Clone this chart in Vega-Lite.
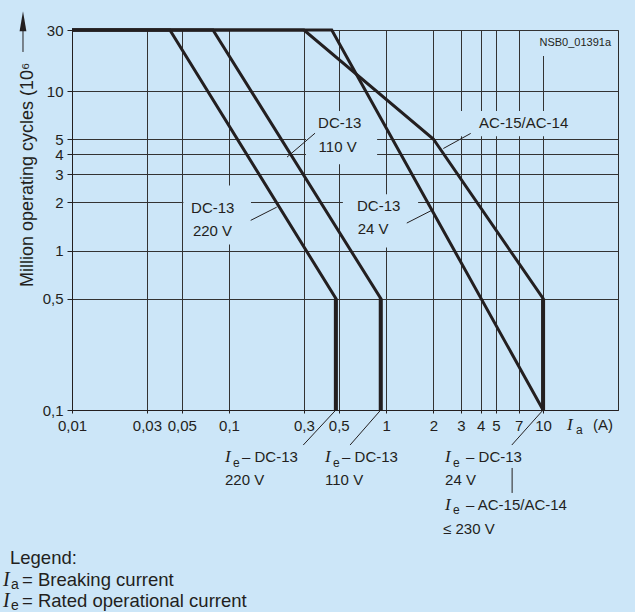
{
  "$schema": "https://vega.github.io/schema/vega-lite/v6.json",
  "width": 546,
  "height": 380,
  "autosize": {"type": "none"},
  "padding": {"left": 72, "top": 30, "right": 17, "bottom": 202},
  "background": "#cce6f8",
  "config": {
    "view": {"stroke": "#2b2b2b", "strokeWidth": 1},
    "text": {"font": "Liberation Sans", "color": "#231f20"}
  },
  "datasets": {
    "curves": [
      {"s": "220", "o": 1, "x": 0.01, "y": 30},
      {"s": "220", "o": 2, "x": 0.042, "y": 30},
      {"s": "220", "o": 3, "x": 0.479, "y": 0.5},
      {"s": "220", "o": 4, "x": 0.479, "y": 0.1},
      {"s": "110", "o": 1, "x": 0.01, "y": 30},
      {"s": "110", "o": 2, "x": 0.079, "y": 30},
      {"s": "110", "o": 3, "x": 0.925, "y": 0.5},
      {"s": "110", "o": 4, "x": 0.925, "y": 0.1},
      {"s": "24", "o": 1, "x": 0.01, "y": 30},
      {"s": "24", "o": 2, "x": 0.451, "y": 30},
      {"s": "24", "o": 3, "x": 10, "y": 0.1},
      {"s": "AC", "o": 1, "x": 0.01, "y": 30},
      {"s": "AC", "o": 2, "x": 0.3, "y": 30},
      {"s": "AC", "o": 3, "x": 2, "y": 5},
      {"s": "AC", "o": 4, "x": 10, "y": 0.5},
      {"s": "AC", "o": 5, "x": 10, "y": 0.1}
    ],
    "verticals": [
      {"x": 0.479, "y": 0.5, "y2": 0.1},
      {"x": 0.925, "y": 0.5, "y2": 0.1},
      {"x": 10, "y": 0.5, "y2": 0.1}
    ],
    "masks": [
      {"x": 0.0512, "x2": 0.138, "y": 2.56, "y2": 1.09},
      {"x": 0.309, "x2": 0.877, "y": 7.48, "y2": 3.47},
      {"x": 0.531, "x2": 1.6, "y": 2.25, "y2": 1.044},
      {"x": 2.38, "x2": 16.0, "y": 7.48, "y2": 5.21},
      {"x": 8.26, "x2": 28.7, "y": 29.4, "y2": 18.8}
    ],
    "leaders": [
      {"x": 0.353, "y": 5.44, "x2": 0.234, "y2": 3.85},
      {"x": 0.1374, "y": 1.545, "x2": 0.2013, "y2": 1.87},
      {"x": 1.355, "y": 1.486, "x2": 1.955, "y2": 1.786},
      {"x": 3.46, "y": 5.42, "x2": 2.317, "y2": 4.36},
      {"x": 0.479, "y": 0.1, "x2": 0.297, "y2": 0.0603},
      {"x": 0.925, "y": 0.1, "x2": 0.59, "y2": 0.0603},
      {"x": 10, "y": 0.1, "x2": 6.32, "y2": 0.0603},
      {"x": 6.35, "y": 0.0433, "x2": 6.35, "y2": 0.0302},
      {"x": 0.004874, "y": 20.2, "x2": 0.004874, "y2": 31}
    ],
    "arrow": [
      {"x": 0.004874, "y": 35.1}
    ],
    "labels": [
      {"x": 0.0573, "y": 1.837, "t": "DC-13", "k": "label"},
      {"x": 0.0589, "y": 1.316, "t": "220 V", "k": "label"},
      {"x": 0.369, "y": 6.34, "t": "DC-13", "k": "label"},
      {"x": 0.372, "y": 4.48, "t": "110 V", "k": "label"},
      {"x": 0.653, "y": 1.89, "t": "DC-13", "k": "label"},
      {"x": 0.66, "y": 1.356, "t": "24 V", "k": "label"},
      {"x": 3.91, "y": 6.34, "t": "AC-15/AC-14", "k": "label"},
      {"x": 27.1, "y": 23.9, "t": "NSB0_01391a", "k": "note"},
      {"x": 14.22, "y": 0.0805, "t": "I", "k": "ital"},
      {"x": 16.2, "y": 0.0745, "t": "a", "k": "sub"},
      {"x": 20.8, "y": 0.0805, "t": "(A)", "k": "label"},
      {"x": 0.0943, "y": 0.0504, "t": "I", "k": "ital"},
      {"x": 0.1061, "y": 0.0468, "t": "e", "k": "sub"},
      {"x": 0.121, "y": 0.0504, "t": "– DC-13", "k": "label"},
      {"x": 0.0943, "y": 0.0364, "t": "220 V", "k": "label"},
      {"x": 0.4088, "y": 0.0504, "t": "I", "k": "ital"},
      {"x": 0.4597, "y": 0.0468, "t": "e", "k": "sub"},
      {"x": 0.5245, "y": 0.0504, "t": "– DC-13", "k": "label"},
      {"x": 0.4088, "y": 0.0364, "t": "110 V", "k": "label"},
      {"x": 2.376, "y": 0.0504, "t": "I", "k": "ital"},
      {"x": 2.673, "y": 0.0468, "t": "e", "k": "sub"},
      {"x": 3.233, "y": 0.0504, "t": "– DC-13", "k": "label"},
      {"x": 2.376, "y": 0.0364, "t": "24 V", "k": "label"},
      {"x": 2.376, "y": 0.02537, "t": "I", "k": "ital"},
      {"x": 2.673, "y": 0.02355, "t": "e", "k": "sub"},
      {"x": 3.233, "y": 0.02537, "t": "– AC-15/AC-14", "k": "label"},
      {"x": 2.307, "y": 0.01795, "t": "≤ 230 V", "k": "label"},
      {"x": 0.004029, "y": 0.01181, "t": "Legend:", "k": "legend"},
      {"x": 0.003634, "y": 0.008594, "t": "I", "k": "legital"},
      {"x": 0.004088, "y": 0.007993, "t": "a", "k": "legsub"},
      {"x": 0.004803, "y": 0.008594, "t": "= Breaking current", "k": "legend"},
      {"x": 0.003634, "y": 0.006346, "t": "I", "k": "legital"},
      {"x": 0.004088, "y": 0.005905, "t": "e", "k": "legsub"},
      {"x": 0.004803, "y": 0.006346, "t": "= Rated operational current", "k": "legend"}
    ]
  },
  "encoding": {
    "x": {
      "field": "x",
      "type": "quantitative",
      "scale": {"type": "log", "domain": [0.01, 30], "nice": false},
      "axis": {
        "values": [0.01, 0.03, 0.05, 0.1, 0.3, 0.5, 1, 2, 3, 4, 5, 7, 10],
        "labelExpr": "replace(toString(datum.value), '.', ',')",
        "title": null,
        "grid": true,
        "gridColor": "#333333",
        "gridWidth": 1,
        "tickSize": 3,
        "tickColor": "#231f20",
        "domainColor": "#231f20",
        "labelPadding": 5,
        "labelFontSize": 15,
        "labelFont": "Liberation Sans",
        "labelColor": "#231f20",
        "labelOverlap": false,
        "labelFlush": false
      }
    },
    "y": {
      "field": "y",
      "type": "quantitative",
      "scale": {"type": "log", "domain": [0.1, 10, 30], "range": [380, 61, 0], "nice": false},
      "axis": {
        "values": [0.1, 0.5, 1, 2, 3, 4, 5, 10, 30],
        "labelExpr": "replace(toString(datum.value), '.', ',')",
        "title": "Million operating cycles (10⁶",
        "titleFont": "Liberation Sans",
        "titleFontSize": 18,
        "titleFontWeight": "normal",
        "titleColor": "#231f20",
        "titleAngle": 270,
        "titleAlign": "right",
        "titleBaseline": "middle",
        "titleX": -45,
        "titleY": 32,
        "grid": true,
        "gridColor": "#333333",
        "gridWidth": 1,
        "tickSize": 5,
        "tickColor": "#231f20",
        "domainColor": "#231f20",
        "labelPadding": 4,
        "labelFontSize": 15,
        "labelFont": "Liberation Sans",
        "labelColor": "#231f20",
        "labelOverlap": false,
        "labelFlush": false
      }
    }
  },
  "layer": [
    {
      "data": {"name": "masks"},
      "mark": {"type": "rect", "fill": "#cce6f8", "strokeWidth": 0},
      "encoding": {"x2": {"field": "x2"}, "y2": {"field": "y2"}}
    },
    {
      "data": {"name": "leaders"},
      "mark": {"type": "rule", "color": "#231f20", "strokeWidth": 1},
      "encoding": {"x2": {"field": "x2"}, "y2": {"field": "y2"}}
    },
    {
      "data": {"name": "curves"},
      "mark": {"type": "line", "color": "#231f20", "strokeWidth": 3, "strokeJoin": "miter", "strokeCap": "butt"},
      "encoding": {"detail": {"field": "s"}, "order": {"field": "o"}}
    },
    {
      "data": {"name": "verticals"},
      "mark": {"type": "rule", "color": "#231f20", "strokeWidth": 4},
      "encoding": {"y2": {"field": "y2"}}
    },
    {
      "data": {"name": "arrow"},
      "mark": {"type": "point", "shape": "M0,-1L0.34,1L-0.34,1Z", "size": 400, "filled": true, "color": "#231f20", "opacity": 1},
      "encoding": {}
    },
    {
      "data": {"name": "labels"},
      "transform": [{"filter": "datum.k === 'label'"}],
      "mark": {"type": "text", "align": "left", "baseline": "middle", "fontSize": 15, "font": "Liberation Sans", "color": "#231f20"},
      "encoding": {"text": {"field": "t"}}
    },
    {
      "data": {"name": "labels"},
      "transform": [{"filter": "datum.k === 'note'"}],
      "mark": {"type": "text", "align": "right", "baseline": "middle", "fontSize": 11, "font": "Liberation Sans", "color": "#231f20"},
      "encoding": {"text": {"field": "t"}}
    },
    {
      "data": {"name": "labels"},
      "transform": [{"filter": "datum.k === 'ital'"}],
      "mark": {"type": "text", "align": "left", "baseline": "middle", "fontSize": 17, "font": "Liberation Serif", "fontStyle": "italic", "color": "#231f20"},
      "encoding": {"text": {"field": "t"}}
    },
    {
      "data": {"name": "labels"},
      "transform": [{"filter": "datum.k === 'sub'"}],
      "mark": {"type": "text", "align": "left", "baseline": "middle", "fontSize": 12, "font": "Liberation Sans", "color": "#231f20"},
      "encoding": {"text": {"field": "t"}}
    },
    {
      "data": {"name": "labels"},
      "transform": [{"filter": "datum.k === 'legend'"}],
      "mark": {"type": "text", "align": "left", "baseline": "middle", "fontSize": 18.5, "font": "Liberation Sans", "color": "#231f20"},
      "encoding": {"text": {"field": "t"}}
    },
    {
      "data": {"name": "labels"},
      "transform": [{"filter": "datum.k === 'legital'"}],
      "mark": {"type": "text", "align": "left", "baseline": "middle", "fontSize": 20, "font": "Liberation Serif", "fontStyle": "italic", "color": "#231f20"},
      "encoding": {"text": {"field": "t"}}
    },
    {
      "data": {"name": "labels"},
      "transform": [{"filter": "datum.k === 'legsub'"}],
      "mark": {"type": "text", "align": "left", "baseline": "middle", "fontSize": 14, "font": "Liberation Sans", "color": "#231f20"},
      "encoding": {"text": {"field": "t"}}
    }
  ]
}
